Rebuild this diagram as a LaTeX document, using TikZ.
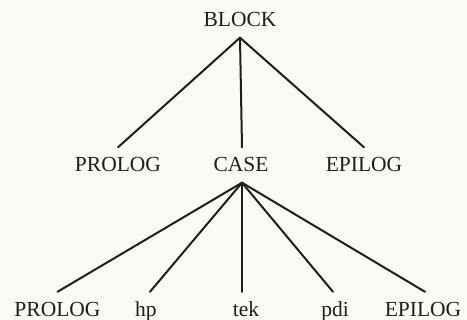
\documentclass[tikz,border=0pt]{standalone}
\usepackage{fontspec}
\setmainfont{Liberation Serif}
\definecolor{paper}{RGB}{251,250,245}
\definecolor{ink}{RGB}{30,30,30}
\begin{document}
\begin{tikzpicture}[x=1pt,y=1pt,
  label/.style={anchor=base, text=ink, font=\fontsize{21.5}{24}\selectfont,
    text height=14pt, text depth=0pt, inner xsep=0pt, inner ysep=10.5pt},
  branch/.style={draw=ink, line width=2pt, line cap=round}]
  % page area
  \fill[paper] (0,0) rectangle (467,-320);
  \useasboundingbox (0,0) rectangle (467,-320);

  % top level
  \node[label] (block) at (240,-27) {BLOCK};

  % second level
  \node[label] (prolog1) at (118,-172) {PROLOG};
  \node[label] (case)    at (241,-172) {CASE};
  \node[label] (epilog1) at (364,-172) {EPILOG};

  % third level
  \node[label] (prolog2) at (57.5,-316.5) {PROLOG};
  \node[label] (hp)      at (146,-316.5) {hp};
  \node[label] (tek)     at (246,-316.5) {tek};
  \node[label] (pdi)     at (335,-316.5) {pdi};
  \node[label] (epilog2) at (423,-316.5) {EPILOG};

  % branches of BLOCK
  \draw[branch] (block.south) -- (prolog1.north);
  \draw[branch] (block.south) -- ([xshift=1pt]case.north);
  \draw[branch] (block.south) -- (epilog1.north);

  % branches of CASE
  \draw[branch] ([xshift=1pt]case.south) -- (prolog2.north);
  \draw[branch] ([xshift=1pt]case.south) -- ([xshift=4pt]hp.north);
  \draw[branch] ([xshift=1pt]case.south) -- ([xshift=-4pt]tek.north);
  \draw[branch] ([xshift=1pt]case.south) -- ([xshift=-2pt]pdi.north);
  \draw[branch] ([xshift=1pt]case.south) -- ([xshift=2pt]epilog2.north);
\end{tikzpicture}
\end{document}
